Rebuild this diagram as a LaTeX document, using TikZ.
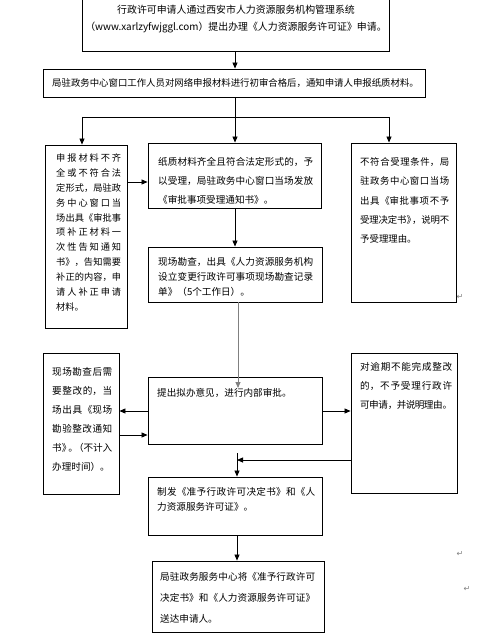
\documentclass[tikz,border=0pt]{standalone}
\usepackage{fontspec}
\setmainfont{Noto Sans CJK SC}
\newfontfamily\symfont{DejaVu Sans}
\usetikzlibrary{arrows.meta}
\XeTeXlinebreaklocale "zh"
\XeTeXlinebreakskip=0pt plus 4pt minus 0.6pt
\XeTeXlinebreakpenalty=10000
\tolerance=10000
\hbadness=10000
\hfuzz=20pt
\begin{document}
\begin{tikzpicture}[x=1pt,y=-1pt,
  box/.style={draw, line width=0.9pt, inner sep=0pt},
  arr/.style={line width=0.8pt, -{Triangle[length=6pt,width=5pt]}},
  conn/.style={line width=0.8pt},
  txt/.style={anchor=north west, inner sep=0pt, align=justify},
  pmark/.style={inner sep=0pt, text=gray, font=\symfont\fontsize{8pt}{8pt}\selectfont}]
\useasboundingbox (0,0) rectangle (482,639);
\fill[white] (0,0) rectangle (482,639);
% boxes
\node[box, minimum width=307pt, minimum height=56pt] (A) at (235.5,23) {};
\node[box, minimum width=382pt, minimum height=28pt] (B) at (234,83) {};
\node[box, minimum width=82pt, minimum height=183pt] (C) at (86,236.5) {};
\node[box, minimum width=173pt, minimum height=65pt] (D) at (234.5,175.5) {};
\node[box, minimum width=105pt, minimum height=159pt] (E) at (403.5,222.5) {};
\node[box, minimum width=174pt, minimum height=55pt] (F) at (235,274.5) {};
\node[box, minimum width=174pt, minimum height=67pt] (G) at (235,410.5) {};
\node[box, minimum width=76pt, minimum height=141pt] (H) at (81,423.5) {};
\node[box, minimum width=106pt, minimum height=140pt] (I) at (404,423) {};
\node[box, minimum width=174pt, minimum height=58pt] (J) at (235,506) {};
\node[box, minimum width=172pt, minimum height=71pt] (K) at (238,596.5) {};
% texts
\node[inner sep=0pt, anchor=north, align=center, font=\fontsize{9.9pt}{17pt}\selectfont] (At) at (236,5.2)
  {行政许可申请人通过西安市人力资源服务机构管理系统\\（www.xarlzyfwjggl.com）提出办理《人力资源服务许可证》申请。};
\node[inner sep=0pt, anchor=north west, font=\fontsize{9.4pt}{12pt}\selectfont] (Bt) at (52,78.5)
  {局驻政务中心窗口工作人员对网络申报材料进行初审合格后，通知申请人申报纸质材料。};
\node[txt, text width=65pt, font=\fontsize{9.2pt}{14.9pt}\selectfont] (Ct) at (56,153.5)
  {申报材料不齐\linebreak 全或不符合法\linebreak 定形式，局驻政\linebreak 务中心窗口当\linebreak 场出具《审批事\linebreak 项补正材料一\linebreak 次性告知通知\linebreak 书》，告知需要\linebreak 补正的内容，申\linebreak 请人补正申请\linebreak 材料。};
\node[txt, text width=155pt, font=\fontsize{9.6pt}{19pt}\selectfont] (Dt) at (158,157.4)
  {纸质材料齐全且符合法定形式的，予\linebreak 以受理，局驻政务中心窗口当场发放\linebreak 《审批事项受理通知书》。};
\node[txt, text width=89pt, font=\fontsize{9.4pt}{19.3pt}\selectfont] (Et) at (360,157.5)
  {不符合受理条件，局\linebreak 驻政务中心窗口当场\linebreak 出具《审批事项不予\linebreak 受理决定书》\kern-4pt，说明不\linebreak 予受理理由。};
\node[txt, text width=155pt, font=\fontsize{9.6pt}{15pt}\selectfont] (Ft) at (158,257.4)
  {现场勘查，出具《人力资源服务机构\linebreak 设立变更行政许可事项现场勘查记录\linebreak 单》（5个工作日）。};
\node[inner sep=0pt, anchor=north west, font=\fontsize{9.6pt}{12pt}\selectfont] (Gt) at (157,388.4)
  {提出拟办意见，进行内部审批。};
\node[txt, text width=60pt, font=\fontsize{9.6pt}{19pt}\selectfont] (Ht) at (52,367.4)
  {现场勘查后需\linebreak 要整改的，当\linebreak 场出具《现场\linebreak 勘验整改通知\linebreak 书》\kern-3pt。\kern-4pt（不计入\linebreak 办理时间）。};
\node[txt, text width=92pt, font=\fontsize{9.6pt}{19pt}\selectfont] (It) at (360,362.4)
  {对逾期不能完成整改\linebreak 的，不予受理行政许\linebreak 可申请，并说明理由。};
\node[txt, text width=158pt, font=\fontsize{9.6pt}{15pt}\selectfont] (Jt) at (157,487.4)
  {制发《准予行政许可决定书》和《人\linebreak 力资源服务许可证》。};
\node[txt, text width=155pt, font=\fontsize{9.6pt}{21pt}\selectfont] (Kt) at (160,572.4)
  {局驻政务服务中心将《准予行政许可\linebreak 决定书》和《人力资源服务许可证》\linebreak 送达申请人。};
% paragraph marks
\node[pmark] (m1) at (460,297) {↵};
\node[pmark] (m2) at (460,554) {↵};
\node[pmark] (m3) at (467,589) {↵};
% helper coordinates
\coordinate (xm) at (235,0);
\coordinate (jL) at (82,117);
\coordinate (jM) at (235,117);
\coordinate (jR) at (389,117);
\coordinate (yCD) at (0,182);
\coordinate (gEnd) at (238,388);
\coordinate (y411) at (0,411);
\coordinate (y435) at (0,435);
\coordinate (y460) at (0,460);
\coordinate (vx) at (237,453);
% connectors
\draw[arr] (A.south -| xm) -- (B.north -| xm);
\draw[arr] (B.south -| xm) -- (D.north -| xm);
\draw[conn] (jL) -- (jR);
\draw[arr] (jL) -- (C.north -| jL);
\draw[arr] (jR) -- (E.north -| jR);
\draw[arr] (C.east |- yCD) -- (D.west |- yCD);
\draw[arr] (D.south -| xm) -- (F.north -| xm);
\draw[arr, draw=gray, fill=gray] (F.south -| gEnd) -- (gEnd);
\draw[arr] (G.west |- y411) -- (H.east |- y411);
\draw[arr] (H.east |- y435) -- (G.west |- y435);
\draw[arr] (G.east |- y411) -- (I.west |- y411);
\draw[arr] (I.west |- y460) -- (vx |- y460);
\draw[arr] (vx) -- (J.north -| vx);
\draw[arr] (J.south -| vx) -- (K.north -| vx);
\end{tikzpicture}
\end{document}
